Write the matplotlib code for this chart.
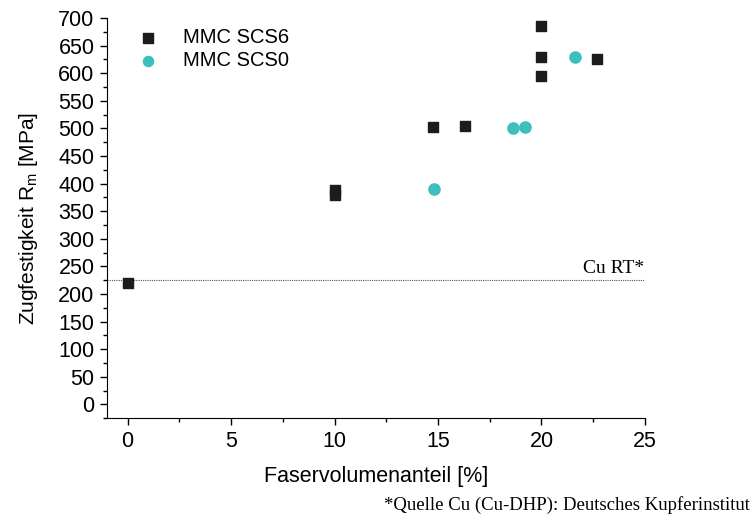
import matplotlib.pyplot as plt
from matplotlib.ticker import MultipleLocator

# data
scs6_x = [0, 10, 10, 14.75, 16.3, 20, 20, 20, 22.7]
scs6_y = [220, 388, 379, 502, 505, 685, 629, 595, 625]
scs0_x = [14.8, 18.6, 19.2, 21.6]
scs0_y = [390, 500, 502, 629]
cu_rt = 225

plt.rcParams['font.family'] = ['Liberation Sans', 'DejaVu Sans']

fig = plt.figure(figsize=(7.55, 5.22), dpi=100)
ax = fig.add_axes([0.1417, 0.199, 0.7125, 0.7665])

ax.axhline(cu_rt, color='#555555', lw=0.8, ls=(0, (1, 1)), zorder=1)
ax.text(24.95, cu_rt + 5, 'Cu RT*', ha='right', va='bottom',
        family='Liberation Serif', fontsize=14)

ax.scatter(scs6_x, scs6_y, marker='s', s=55, color='#1c1c1c', label='MMC SCS6', zorder=3)
ax.scatter(scs0_x, scs0_y, marker='o', s=65, color='#3dbfbf', label='MMC SCS0', zorder=3)

ax.set_xlim(-1, 25)
ax.set_ylim(-25, 700)
ax.xaxis.set_major_locator(MultipleLocator(5))
ax.xaxis.set_minor_locator(MultipleLocator(2.5))
ax.yaxis.set_major_locator(MultipleLocator(50))
ax.yaxis.set_minor_locator(MultipleLocator(25))
ax.tick_params(which='major', length=5, width=1, labelsize=15.5, pad=4)
ax.tick_params(which='minor', length=3, width=1)
for s in ['top', 'right']:
    ax.spines[s].set_visible(False)

ax.set_xlabel('Faservolumenanteil [%]', fontsize=15.5, labelpad=10)
ax.set_ylabel('Zugfestigkeit R$_\\mathregular{m}$ [MPa]', fontsize=15, labelpad=13)

ax.legend(loc='upper left', bbox_to_anchor=(0.006, 1.02), frameon=False,
          fontsize=14.5, handletextpad=0.7, labelspacing=0.2, markerscale=0.9)

fig.text(0.993, 0.015, '*Quelle Cu (Cu-DHP): Deutsches Kupferinstitut',
         ha='right', va='bottom', family='Liberation Serif', fontsize=13.5)

fig.savefig('out.png', dpi=100)
